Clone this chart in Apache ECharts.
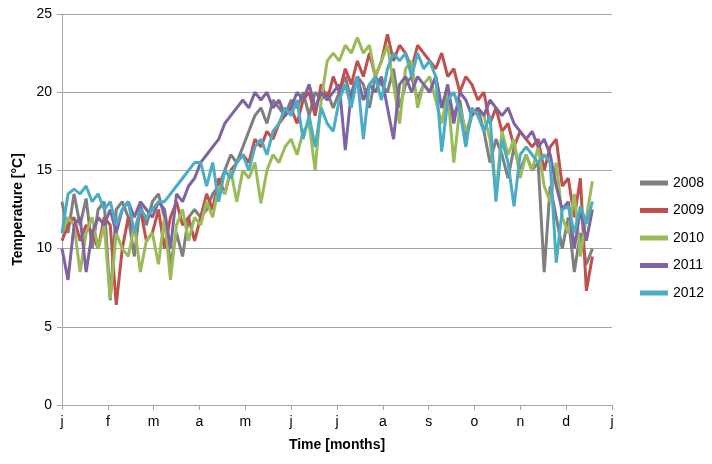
<!DOCTYPE html>
<html><head><meta charset="utf-8">
<script src="https://cdn.jsdelivr.net/npm/echarts@6/dist/echarts.min.js"></script>
<style>html,body{margin:0;padding:0;background:#fff}#c{width:712px;height:464px}</style>
</head><body><div id="c"></div>
<script>
const monthLabels = ['j','f','m','a','m','j','j','a','s','o','n','d','j'];
const seriesNames = ['2008','2009','2010','2011','2012'];
const stepDays = 4;
const y2008 = [13.0,11.0,13.5,11.5,13.2,10.0,12.5,13.0,
  6.7,12.5,13.0,12.0,9.5,12.8,11.5,
  13.0,13.5,12.0,9.0,11.0,9.5,12.0,12.5,
  12.0,12.5,13.5,14.0,15.0,16.0,15.5,
  16.5,17.5,18.5,19.0,18.0,19.5,19.0,18.5,
  19.5,19.0,20.0,18.5,20.0,19.5,20.0,19.0,
  20.0,21.0,19.5,21.0,20.5,19.0,21.0,20.5,
  20.0,21.5,19.0,20.5,21.0,19.5,20.5,
  20.0,21.0,19.0,20.0,18.5,19.5,17.0,18.5,
  19.0,17.5,15.5,17.0,16.0,14.5,16.5,15.0,
  16.0,15.0,15.5,8.5,14.0,12.0,10.0,
  12.0,8.5,11.0,9.0,10.0];
const y2009 = [10.5,11.5,12.0,10.5,11.5,11.0,10.0,12.0,
  11.5,6.4,10.0,12.0,11.0,12.5,10.5,
  11.0,12.5,10.0,12.0,13.0,11.5,12.0,10.5,
  12.0,13.5,12.5,14.5,13.5,15.0,15.5,
  16.0,15.5,17.0,16.5,17.5,17.0,18.0,18.5,
  19.0,18.0,19.5,20.0,18.5,20.5,19.5,21.0,
  20.0,21.5,20.5,22.0,21.0,22.5,21.0,22.0,
  23.7,22.0,23.0,22.5,21.5,23.0,22.5,
  22.0,21.5,22.5,21.0,21.5,20.0,21.0,20.5,
  19.5,20.0,18.0,19.0,17.5,18.0,16.5,17.5,
  17.0,16.5,17.0,15.0,16.5,17.0,14.0,
  14.5,12.0,14.5,7.3,9.5];
const y2010 = [11.0,12.0,11.5,8.5,11.0,12.0,10.0,11.5,
  6.8,11.0,10.0,9.5,11.5,8.5,10.5,
  11.0,9.0,12.0,8.0,11.5,12.5,10.5,12.0,
  11.5,13.0,12.0,14.0,13.5,15.0,13.0,
  15.0,14.5,15.5,12.9,15.0,16.0,15.5,16.5,
  17.0,16.0,17.5,18.0,15.0,19.5,22.0,22.5,
  22.0,23.0,22.5,23.5,22.5,23.0,21.0,22.0,
  23.0,20.5,18.0,21.5,22.0,19.0,20.5,
  21.0,19.5,18.0,20.0,15.5,19.0,17.5,18.5,
  19.0,18.5,17.0,13.5,17.5,16.0,17.0,14.5,
  16.0,15.0,16.5,14.0,13.0,15.5,12.0,
  11.0,13.5,9.5,12.0,14.3];
const y2011 = [10.0,8.0,11.5,12.0,8.5,11.0,12.0,11.5,
  12.5,11.0,12.5,13.0,12.0,13.0,12.5,
  12.0,13.0,12.5,10.0,13.5,13.0,14.0,14.5,
  15.5,16.0,16.5,17.0,18.0,18.5,19.0,
  19.5,19.0,20.0,19.5,20.0,19.0,19.5,18.5,
  19.0,20.0,19.5,20.5,19.0,20.0,19.5,20.0,
  20.5,16.3,20.0,21.0,19.5,20.5,20.0,21.0,
  19.0,17.0,20.5,21.0,20.0,21.0,20.5,
  20.0,21.0,19.0,20.5,18.0,20.0,19.5,18.5,
  19.0,18.5,19.5,19.0,18.5,19.0,18.0,17.5,
  17.0,17.5,16.5,17.0,16.0,14.0,12.5,
  13.0,10.0,12.5,10.5,12.5];
const y2012 = [11.0,13.5,13.8,13.5,14.0,13.0,13.5,12.5,
  13.0,11.5,12.5,13.0,11.0,12.5,12.0,
  12.5,13.0,13.0,13.5,14.0,14.5,15.0,15.5,
  15.5,14.0,15.5,13.0,15.0,14.5,15.5,
  16.0,15.0,16.5,17.0,16.0,17.5,18.0,19.0,
  18.5,19.5,17.0,18.5,16.5,19.0,18.0,17.5,
  19.5,20.5,19.0,21.0,17.0,20.5,21.0,19.5,
  21.5,22.5,22.0,22.5,21.0,22.5,21.5,
  22.0,21.0,16.2,19.5,20.0,18.8,16.5,19.0,
  18.5,17.5,18.5,13.0,17.0,15.5,12.7,16.0,
  16.5,16.0,15.5,16.0,15.5,9.1,12.5,
  12.7,11.0,12.7,11.6,13.0];
const yTicks = [0,5,10,15,20,25];
const allData = [y2008,y2009,y2010,y2011,y2012];
const colors = ['#7f7f7f','#c0504d','#9bbb59','#8064a2','#4bacc6'];
const daysPerMonth = 365/12;

const chart = echarts.init(document.getElementById('c'), null, {renderer:'canvas'});
chart.setOption({
  animation:false,
  backgroundColor:'#fff',
  textStyle:{fontFamily:'Liberation Sans, Arial, sans-serif'},
  grid:{left:62,right:100,top:14,bottom:59,containLabel:false},
  legend:{
    orient:'vertical', left:635, top:171, itemGap:13.5,
    itemWidth:28, itemHeight:5, icon:'rect',
    textStyle:{fontSize:14,color:'#000',fontFamily:'Liberation Sans, Arial, sans-serif'},
    data:seriesNames
  },
  xAxis:{
    type:'value', min:0, max:12, interval:1,
    name:'Time [months]', nameLocation:'middle', nameGap:33,
    nameTextStyle:{fontSize:14,fontWeight:'bold',color:'#000'},
    axisLine:{lineStyle:{color:'#a6a6a6',width:1}},
    axisTick:{show:true,length:5,lineStyle:{color:'#a6a6a6'}},
    axisLabel:{fontSize:14,color:'#000',margin:10,formatter:(v)=>monthLabels[Math.round(v)]},
    splitLine:{show:false}
  },
  yAxis:{
    type:'value', min:yTicks[0], max:yTicks[yTicks.length-1], interval:5,
    name:'Temperature [°C]', nameLocation:'middle', nameGap:36, nameRotate:90,
    nameTextStyle:{fontSize:14,fontWeight:'bold',color:'#000'},
    axisLine:{show:true,lineStyle:{color:'#a6a6a6',width:1}},
    axisTick:{show:true,inside:false,length:5,lineStyle:{color:'#a6a6a6'}},
    axisLabel:{fontSize:14,color:'#000',margin:10},
    splitLine:{show:true,lineStyle:{color:'#a6a6a6',width:1}}
  },
  series: seriesNames.map((n,k)=>({
    name:n, type:'line', showSymbol:false, symbol:'none',
    color:colors[k],
    lineStyle:{width:3,color:colors[k]},
    data: allData[k].map((v,i)=>[i*stepDays/daysPerMonth, v])
  }))
});
</script></body></html>
